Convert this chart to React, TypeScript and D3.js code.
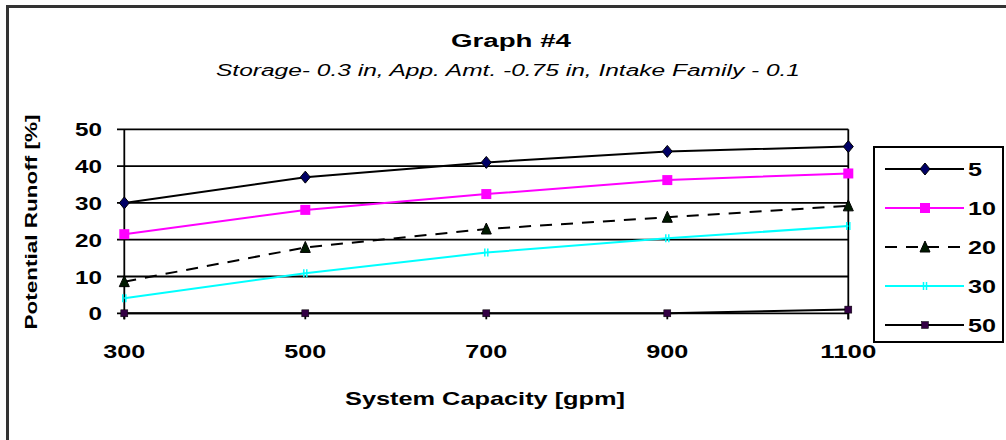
import React from "react";
import * as d3 from "d3";

const capacities = [300, 500, 700, 900, 1100];
const seriesNames = ["5", "10", "20", "30", "50"];
const s5 = [30, 37, 41, 44, 45.3];
const s10 = [21.5, 28.1, 32.4, 36.2, 38];
const s20 = [8.6, 17.9, 22.9, 26.1, 29.2];
const s30 = [4.1, 10.9, 16.5, 20.4, 23.7];
const s50 = [0, 0, 0, 0, 1];
const yTicks = [0, 10, 20, 30, 40, 50];
const xTicks = [300, 500, 700, 900, 1100];

const titleText = "Graph #4";
const subtitleText = "Storage- 0.3 in, App. Amt. -0.75 in, Intake Family - 0.1";
const xLabel = "System Capacity [gpm]";
const yLabel = "Potential Runoff [%]";

const FONT = "'Liberation Sans', Arial, sans-serif";

type Style = {
  name: string;
  values: number[];
  color: string;
  dash?: string;
  marker: "diamond" | "square" | "triangle" | "bars" | "smallsquare";
  markerFill: string;
};

const styles: Style[] = [
  { name: seriesNames[0], values: s5, color: "#000000", marker: "diamond", markerFill: "#000066" },
  { name: seriesNames[1], values: s10, color: "#ff00ff", marker: "square", markerFill: "#ff00ff" },
  { name: seriesNames[2], values: s20, color: "#000000", dash: "12,9", marker: "triangle", markerFill: "#001a00" },
  { name: seriesNames[3], values: s30, color: "#00ffff", marker: "bars", markerFill: "#00ffff" },
  { name: seriesNames[4], values: s50, color: "#000000", marker: "smallsquare", markerFill: "#330044" },
];

function Marker({ kind, x, y, fill }: { kind: Style["marker"]; x: number; y: number; fill: string }) {
  switch (kind) {
    case "diamond":
      return <path d={`M${x},${y - 6}L${x + 5},${y}L${x},${y + 6}L${x - 5},${y}Z`} fill={fill} stroke="#000" strokeWidth={1} />;
    case "square":
      return <rect x={x - 5} y={y - 5} width={10} height={10} fill={fill} />;
    case "triangle":
      return <path d={`M${x},${y - 6}L${x + 5},${y + 5}L${x - 5},${y + 5}Z`} fill={fill} stroke="#000" strokeWidth={1} />;
    case "bars":
      return (
        <g stroke={fill} strokeWidth={1.5}>
          <line x1={x - 1.5} x2={x - 1.5} y1={y - 4} y2={y + 4} />
          <line x1={x + 1.5} x2={x + 1.5} y1={y - 4} y2={y + 4} />
        </g>
      );
    case "smallsquare":
      return <rect x={x - 3.5} y={y - 3.5} width={7} height={7} fill={fill} stroke="#000" strokeWidth={0.5} />;
  }
}

export default function App() {
  const W = 1006;
  const H = 440;
  const x = d3.scaleLinear().domain([300, 1100]).range([124.3, 848.3]);
  const y = d3.scaleLinear().domain([0, 50]).range([313.3, 129.3]);
  const line = d3
    .line<number>()
    .x((_, i) => x(capacities[i]))
    .y((d) => y(d));

  const legX = 874;
  const legY = 147;
  const legRowY = (i: number) => 169 + i * 39;

  return (
    <svg width={W} height={H} style={{ position: "absolute", left: 0, top: 0, background: "#fff" }}>
      <rect x={0} y={0} width={W} height={H} fill="#fff" />
      <rect x={7.5} y={6.5} width={1010} height={450} fill="none" stroke="#333" strokeWidth={3} />

      <text x={511} y={47} textAnchor="middle" fontFamily={FONT} fontWeight="bold" fontSize={18} textLength={120} lengthAdjust="spacingAndGlyphs">
        {titleText}
      </text>
      <text x={508} y={76} textAnchor="middle" fontFamily={FONT} fontStyle="italic" fontSize={16} textLength={584} lengthAdjust="spacingAndGlyphs">
        {subtitleText}
      </text>

      {/* gridlines */}
      {yTicks.map((t) => (
        <line key={t} x1={117} x2={x(1100)} y1={y(t)} y2={y(t)} stroke="#000" strokeWidth={1.8} />
      ))}
      <line x1={x(300)} x2={x(300)} y1={y(50)} y2={y(0) + 6} stroke="#000" strokeWidth={1.8} />
      <line x1={x(1100)} x2={x(1100)} y1={y(50)} y2={y(0) + 6} stroke="#000" strokeWidth={1.8} />
      {xTicks.map((t) => (
        <line key={t} x1={x(t)} x2={x(t)} y1={y(0)} y2={y(0) + 6} stroke="#000" strokeWidth={1.8} />
      ))}

      {yTicks.map((t) => (
        <text key={t} x={102} y={y(t) + 7} textAnchor="end" fontFamily={FONT} fontWeight="bold" fontSize={19} textLength={String(t).length * 13.5} lengthAdjust="spacingAndGlyphs">
          {t}
        </text>
      ))}
      {xTicks.map((t) => (
        <text key={t} x={x(t)} y={358} textAnchor="middle" fontFamily={FONT} fontWeight="bold" fontSize={19} textLength={String(t).length * 14} lengthAdjust="spacingAndGlyphs">
          {t}
        </text>
      ))}

      <text x={485} y={405} textAnchor="middle" fontFamily={FONT} fontWeight="bold" fontSize={19} textLength={280} lengthAdjust="spacingAndGlyphs">
        {xLabel}
      </text>
      <text transform="translate(37,222) rotate(-90)" textAnchor="middle" fontFamily={FONT} fontWeight="bold" fontSize={17} textLength={215} lengthAdjust="spacingAndGlyphs">
        {yLabel}
      </text>

      {/* series */}
      {styles.map((s) => (
        <path key={s.name} d={line(s.values) || ""} fill="none" stroke={s.color} strokeWidth={2} strokeDasharray={s.dash} />
      ))}
      {styles.map((s) =>
        s.values.map((v, i) => <Marker key={s.name + i} kind={s.marker} x={x(capacities[i])} y={y(v)} fill={s.markerFill} />)
      )}

      {/* legend */}
      <rect x={legX} y={legY} width={129} height={195} fill="#fff" stroke="#000" strokeWidth={2} />
      {styles.map((s, i) => (
        <g key={s.name}>
          <line x1={885} x2={964} y1={legRowY(i)} y2={legRowY(i)} stroke={s.color} strokeWidth={2} strokeDasharray={s.dash} />
          <Marker kind={s.marker} x={925} y={legRowY(i)} fill={s.markerFill} />
          <text x={968} y={legRowY(i) + 7} fontFamily={FONT} fontWeight="bold" fontSize={19} textLength={s.name.length * 14} lengthAdjust="spacingAndGlyphs">
            {s.name}
          </text>
        </g>
      ))}
    </svg>
  );
}
